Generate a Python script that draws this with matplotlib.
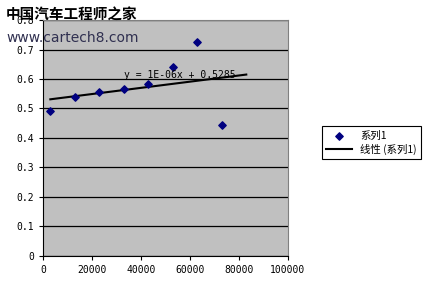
import numpy as np
import matplotlib.pyplot as plt

x_vals = [3000, 13000, 23000, 33000, 43000, 53000, 63000, 73000]
y_vals = [0.49, 0.54, 0.555, 0.566, 0.582, 0.64, 0.725, 0.445]
x_ticks = [0, 20000, 40000, 60000, 80000, 100000]
y_ticks = [0, 0.1, 0.2, 0.3, 0.4, 0.5, 0.6, 0.7, 0.8]
series_name = '系列1'
trend_name = '线性 (系列1)'
equation = 'y = 1E-06x + 0.5285'
forecast = 10000

cjk = ['Noto Sans CJK SC', 'DejaVu Sans']

fig = plt.figure(figsize=(4.29, 2.92), dpi=100)
ax = fig.add_axes([0.1002, 0.1233, 0.5709, 0.8082])
ax.set_facecolor('#C0C0C0')

ax.scatter(x_vals, y_vals, marker='D', s=14, color='#000080', zorder=3, label=series_name)

# linear trend line with forward forecast
slope, icpt = np.polyfit(x_vals, y_vals, 1)
tx = np.array([x_vals[0], x_vals[-1] + forecast])
ax.plot(tx, slope * tx + icpt, color='black', lw=1.5, zorder=2, label=trend_name)
ax.text(33000, 0.614, equation, family='DejaVu Sans Mono', fontsize=7, va='center', zorder=4)

ax.set_xlim(0, 100000)
ax.set_ylim(0, 0.8)
ax.set_xticks(x_ticks)
ax.set_yticks(y_ticks)
ax.set_yticklabels(['0' if v == 0 else f'{v:.1f}' for v in y_ticks])
ax.tick_params(labelsize=7, length=3, width=0.8, colors='black')
for lab in ax.get_xticklabels() + ax.get_yticklabels():
    lab.set_family('DejaVu Sans Mono')
ax.yaxis.grid(True, color='black', lw=0.9)
ax.set_axisbelow(True)
for s in ['top', 'right']:
    ax.spines[s].set_color('#808080')
for s in ['left', 'bottom']:
    ax.spines[s].set_color('black')

leg = fig.legend(loc='upper left', bbox_to_anchor=(0.738, 0.585), prop={'family': cjk, 'size': 7.5},
                 fancybox=False, edgecolor='black', framealpha=1, handlelength=2.5,
                 borderpad=0.4, labelspacing=0.3)
leg.get_frame().set_linewidth(0.8)

# watermark
fig.text(0.014, 0.95, '中国汽车工程师之家', family=cjk, fontsize=10.5, fontweight='bold', va='center')
fig.text(0.016, 0.87, 'www.cartech8.com', family='DejaVu Sans', fontsize=10, color='#303050', va='center')

fig.savefig('out.png')
